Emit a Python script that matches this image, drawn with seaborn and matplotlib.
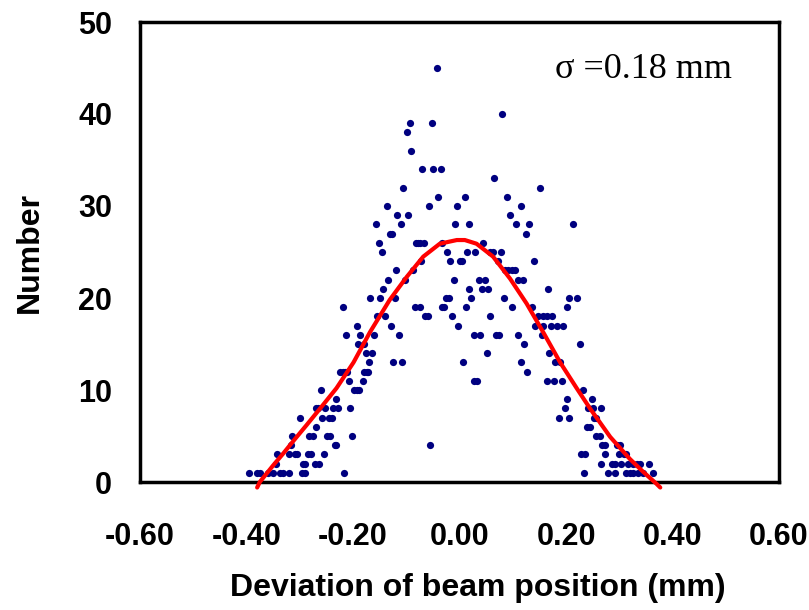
import numpy as np
import pandas as pd
import seaborn as sns
import matplotlib.pyplot as plt

sns.set_theme(style="white")
plt.rcParams["font.family"] = ["Liberation Sans", "DejaVu Sans"]
plt.rcParams["text.color"] = "black"

dev_x = [
    # 1
    -0.395, -0.381, -0.375, -0.359, -0.350, -0.337, -0.331, -0.321, -0.296, -0.290, -0.216,
    0.233, 0.279, 0.292, 0.313, 0.320, 0.325, 0.336, 0.344, 0.363,
    # 2
    -0.345, -0.293, -0.290, -0.271, -0.263,
    0.265, 0.286, 0.292, 0.303, 0.317, 0.326, 0.333, 0.339, 0.356,
    # 3
    -0.343, -0.321, -0.309, -0.305, -0.284, -0.279, -0.254,
    0.228, 0.236, 0.273, 0.300, 0.308, 0.313,
    # 4
    -0.316, -0.234, -0.231, -0.055, 0.268, 0.274, 0.295, 0.301,
    # 5
    -0.314, -0.283, -0.275, -0.248, -0.243, -0.201, 0.256, 0.263,
    # 6
    -0.269, 0.239, 0.245,
    # 7
    -0.299, -0.259, -0.246, -0.240, 0.186, 0.206, 0.253, 0.256,
    # 8
    -0.269, -0.265, -0.252, -0.237, -0.229, -0.205, 0.198, 0.242, 0.250, 0.265,
    # 9
    -0.231, 0.201, 0.248,
    # 10
    -0.261, -0.199, -0.193, -0.188, 0.232,
    # 11
    -0.208, -0.181, 0.027, 0.032, 0.165, 0.177, 0.192,
    # 12
    -0.224, -0.219, -0.215, -0.211, -0.179, -0.174, -0.171, 0.127,
    # 13
    -0.170, -0.125, -0.108, 0.007, 0.115, 0.180, 0.189,
    # 14
    -0.175, -0.164, 0.051, 0.169,
    # 15
    -0.190, -0.179, 0.121, 0.227,
    # 16
    -0.213, -0.186, -0.161, -0.114, 0.027, 0.038, 0.069, 0.074, 0.110, 0.154,
    # 17
    -0.193, -0.129, -0.003, 0.142, 0.157, 0.171, 0.184, 0.195,
    # 18
    -0.155, -0.140, -0.064, -0.059, -0.014, 0.057, 0.148, 0.157, 0.164, 0.174,
    # 19
    -0.219, -0.084, -0.075, -0.032, -0.029, 0.012, 0.098, 0.136, 0.201,
    # 20
    -0.168, -0.149, -0.122, -0.025, -0.020, 0.022, 0.083, 0.206, 0.221,
    # 21
    -0.143, 0.017, 0.042, 0.054, 0.166,
    # 22
    -0.134, -0.102, -0.011, 0.036, 0.048, 0.109, 0.119,
    # 23
    -0.119, -0.087, 0.086, 0.092, 0.098, 0.104,
    # 24
    -0.073, -0.017, 0.000, 0.005, 0.072, 0.139,
    # 25
    -0.146, -0.023, 0.015, 0.030, 0.058, 0.063, 0.077,
    # 26
    -0.152, -0.082, -0.077, -0.074, -0.066, -0.032, 0.045,
    # 27
    -0.131, -0.127, 0.124,
    # 28
    -0.157, -0.110, -0.008, 0.017, 0.107, 0.130, 0.213,
    # 29
    -0.117, -0.096, 0.095,
    # 30
    -0.137, -0.058, -0.005, 0.115,
    # 31
    -0.040, 0.010, 0.089,
    # 32
    -0.106, 0.151,
    # 33
    0.065,
    # 34
    -0.070, -0.049, -0.034,
    # 36, 38, 39, 40, 45
    -0.091, -0.099, -0.093, -0.052, 0.080, -0.043,
]

count_levels = [1, 2, 3, 4, 5, 6, 7, 8, 9, 10, 11, 12, 13, 14, 15, 16, 17, 18, 19, 20,
                21, 22, 23, 24, 25, 26, 27, 28, 29, 30, 31, 32, 33, 34, 36, 38, 39, 40, 45]
points_per_level = [20, 14, 13, 8, 8, 3, 8, 10, 3, 5, 7, 8, 7, 4, 4, 10, 8, 10, 9, 9,
                    5, 7, 6, 6, 7, 7, 3, 7, 3, 4, 3, 2, 1, 3, 1, 1, 2, 1, 1]
number = np.repeat(count_levels, points_per_level)

# fitted curve
curve_x = [-0.380, -0.375, -0.350, -0.331, -0.310, -0.287, -0.256, -0.231, -0.199, -0.168,
           -0.131, -0.099, -0.068, -0.037, -0.005, 0.010, 0.032, 0.063, 0.095, 0.126,
           0.157, 0.189, 0.220, 0.245, 0.283, 0.320, 0.345, 0.370, 0.377]
curve_y = [-0.6, 0.0, 1.8, 3.1, 4.6, 6.2, 8.4, 10.2, 13.0, 16.3,
           19.8, 22.3, 24.5, 25.9, 26.3, 26.3, 25.9, 24.5, 22.1, 19.4,
           16.3, 13.0, 10.2, 8.0, 4.9, 2.5, 1.1, -0.2, -0.6]

x_ticks = [-0.6, -0.4, -0.2, 0.0, 0.2, 0.4, 0.6]
x_tick_labels = ["-0.60", "-0.40", "-0.20", "0.00", "0.20", "0.40", "0.60"]
y_ticks = [0, 10, 20, 30, 40, 50]

points = pd.DataFrame({"dev": dev_x, "number": number})
curve = pd.DataFrame({"dev": curve_x, "number": curve_y})

fig = plt.figure(figsize=(8.09, 6.10), dpi=100)
ax = fig.add_axes([140 / 809, 128 / 610, 639 / 809, 460 / 610])

sns.scatterplot(data=points, x="dev", y="number", ax=ax, color="#000080",
                s=27, linewidth=0, zorder=2)
sns.lineplot(data=curve, x="dev", y="number", ax=ax, color="red",
             linewidth=3, sort=False, estimator=None, zorder=3)
for l in ax.lines:
    l.set_clip_on(False)

ax.set_xlim(-0.6, 0.6)
ax.set_ylim(0, 50)
ax.set_xticks(x_ticks)
ax.set_xticklabels(x_tick_labels, fontweight="bold", fontsize=22)
ax.set_yticks(y_ticks)
ax.set_yticklabels([str(v) for v in y_ticks], fontweight="bold", fontsize=22)
ax.tick_params(axis="both", direction="in", length=8, width=1,
               color="#555555", labelcolor="black")
ax.tick_params(axis="x", pad=29)
ax.tick_params(axis="y", pad=20)
ax.set_xlabel("")
ax.set_ylabel("")
for s in ax.spines.values():
    s.set_linewidth(2.5)
    s.set_color("black")

fig.text(478 / 809, 1 - 588 / 610, "Deviation of beam position (mm)",
         ha="center", va="center", fontsize=23, fontweight="bold", color="black")
fig.text(30 / 809, 1 - 253 / 610, "Number", rotation=90,
         ha="center", va="center", fontsize=23, fontweight="bold", color="black")
fig.text(555 / 809, 1 - 78 / 610, "σ =0.18 mm", ha="left", va="baseline",
         fontsize=26, color="black", family=["Liberation Serif", "DejaVu Serif"])

fig.savefig("out.png", dpi=100)
